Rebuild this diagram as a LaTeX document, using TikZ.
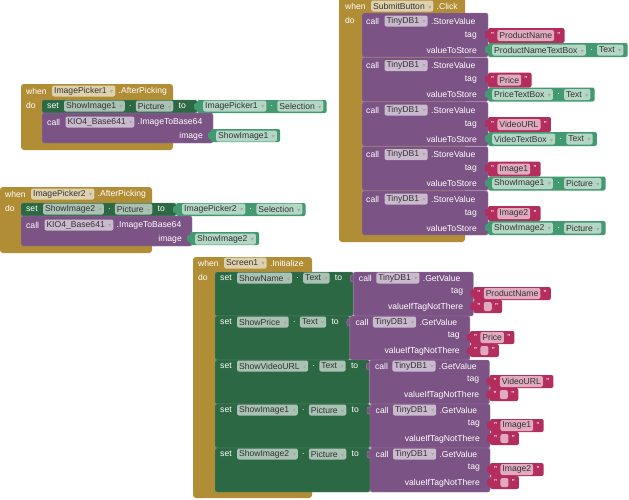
\documentclass[tikz,border=0pt]{standalone}
\usepackage{fontspec}
\setmainfont{Liberation Sans}
\newfontfamily\symfont{DejaVu Sans}
\usetikzlibrary{positioning,backgrounds}
\definecolor{evgold}{HTML}{B18E35}
\definecolor{setgreen}{HTML}{2B6843}
\definecolor{getgreen}{HTML}{439970}
\definecolor{callpurple}{HTML}{7C5385}
\definecolor{strred}{HTML}{B32D5E}
\newcommand{\blkfont}{\fontsize{8.6}{10}\selectfont}
\newcommand{\dda}{\hspace{3.5pt}{\symfont\fontsize{6}{6}\selectfont\color{black!35}▾}\hspace{1.5pt}}

\begin{document}
\begin{tikzpicture}[x=1pt, y=-1pt, node distance=4pt,
  lbl/.style={text=white, font=\blkfont, inner sep=0pt, anchor=west},
  dd/.style={fill=white, fill opacity=.6, text opacity=1, text=black!80, rounded corners=2pt,
    inner xsep=2pt, inner ysep=0pt, minimum height=11pt, font=\blkfont, anchor=west},
  evblk/.style={fill=evgold, rounded corners=3pt},
  setblk/.style={fill=setgreen, draw=setgreen!75!white, line width=.4pt, rounded corners=2pt},
  getblk/.style={fill=getgreen, rounded corners=2pt},
  callblk/.style={fill=callpurple, draw=callpurple!75!white, line width=.4pt, rounded corners=2pt},
  strblk/.style={fill=strred, rounded corners=2pt}
]
\useasboundingbox (0,0) rectangle (629,499);
\begin{scope}[on background layer]
  \fill[white] (0,0) rectangle (629,499);
\end{scope}

% ImagePicker events
\foreach \pk/\ox/\oy in {1/21/84, 2/0/187}{
\begin{scope}[shift={(\ox,\oy)}]
  \node[lbl] (when\pk) at (5,7) {when};
  \node[dd, right=5pt of when\pk] (picker\pk) {ImagePicker\pk\dda};
  \node[lbl, right=3pt of picker\pk] {.AfterPicking};
  \node[lbl] (do\pk) at (5,21) {do};
  \node[lbl] (set\pk) at (26,22) {set};
  \node[dd, right=5pt of set\pk] (show\pk) {ShowImage\pk\dda};
  \node[lbl, right=of show\pk] (dot\pk) {.};
  \node[dd, right=of dot\pk] (pic\pk) {Picture\dda};
  \node[lbl, right=5pt of pic\pk] (to\pk) {to};
  \node[dd] (src\pk) at (182,22) {ImagePicker\pk\dda};
  \node[lbl, right=of src\pk] (srcdot\pk) {.};
  \node[dd, right=of srcdot\pk] (sel\pk) {Selection\dda};
  \node[lbl] (call\pk) at (26,38) {call};
  \node[dd, right=5pt of call\pk] (kio\pk) {KIO4\_Base641\dda};
  \node[lbl, right=3pt of kio\pk] {.ImageToBase64};
  \node[lbl, anchor=east] (img\pk) at (182,52) {image};
  \node[dd] (arg\pk) at (195,52) {ShowImage\pk\dda};
  \begin{scope}[on background layer]
    \fill[evblk] (0,0) rectangle (152,66);
    \fill[setblk] (21,16) rectangle (176,29);
    \fill[getblk] (173,19) rectangle (179,26);
    \fill[getblk] (176,16) rectangle ([xshift=3pt,yshift=-7pt]sel\pk.east);
    \fill[callblk] (21,29) rectangle (192,59);
    \fill[getblk] (187,48) rectangle (193,55);
    \fill[getblk] (190,45) rectangle ([xshift=3pt,yshift=-6pt]arg\pk.east);
  \end{scope}
\end{scope}
}

% SubmitButton.Click
\begin{scope}[on background layer]
  \fill[evblk] (339,-4) rectangle (465,242);
\end{scope}
\node[lbl] (whenS) at (345,6) {when};
\node[dd, right=5pt of whenS] (submit) {SubmitButton\dda};
\node[lbl, right=3pt of submit] {.Click};
\node[lbl] (doS) at (345,20) {do};
\foreach \tg/\cm/\pr [count=\row from 0] in {ProductName/ProductNameTextBox/Text,
    Price/PriceTextBox/Text, VideoURL/VideoTextBox/Text,
    Image1/ShowImage1/Picture, Image2/ShowImage2/Picture}{
  \pgfmathsetmacro\ty{13+44.5*\row}
  \node[lbl] (sc\row) at (366,\ty+8) {call};
  \node[dd, right=5pt of sc\row] (sdb\row) {TinyDB1\dda};
  \node[lbl, right=3pt of sdb\row] {.StoreValue};
  \node[lbl, anchor=east] at (477,\ty+22.5) {tag};
  \node[lbl, anchor=east] at (477,\ty+37) {valueToStore};
  \node[lbl] (sq\row) at (491,\ty+22.5) {"};
  \node[dd, right=3pt of sq\row] (stag\row) {\tg};
  \node[lbl, right=3pt of stag\row] (sqe\row) {"};
  \node[dd] (scm\row) at (492,\ty+37) {\cm\dda};
  \node[lbl, right=of scm\row] (vdot\row) {.};
  \node[dd, right=of vdot\row] (spr\row) {\pr\dda};
  \begin{scope}[on background layer]
    \fill[callblk] (362,\ty) rectangle (488,\ty+44);
    \fill[strblk] (485,\ty+18) rectangle (490,\ty+25);
    \fill[strblk] (488,\ty+15) rectangle ([xshift=4pt,yshift=-7.5pt]sqe\row.east);
    \fill[getblk] (485,\ty+33) rectangle (490,\ty+40);
    \fill[getblk] (488,\ty+30) rectangle ([xshift=4pt,yshift=-7pt]spr\row.east);
  \end{scope}
}

% Screen1.Initialize
\begin{scope}[on background layer]
  \fill[evblk] (193,257) rectangle (312,498);
\end{scope}
\node[lbl] (whenI) at (198,263) {when};
\node[dd, right=5pt of whenI] (scr) {Screen1\dda};
\node[lbl, right=3pt of scr] {.Initialize};
\node[lbl] (doI) at (198,277) {do};
\foreach \cm/\pr/\tg [count=\row from 0] in {ShowName/Text/ProductName,
    ShowPrice/Text/Price, ShowVideoURL/Text/VideoURL,
    ShowImage1/Picture/Image1, ShowImage2/Picture/Image2}{
  \pgfmathsetmacro\ty{272+44*\row}
  \node[lbl] (iset\row) at (220,\ty+6) {set};
  \node[dd, right=5pt of iset\row] (icm\row) {\cm\dda};
  \node[lbl, right=of icm\row] (idot\row) {.};
  \node[dd, right=of idot\row] (ipr\row) {\pr\dda};
  \node[lbl, right=5pt of ipr\row] (ito\row) {to};
  \node[lbl, right=16.5pt of ito\row] (icall\row) {call};
  \node[dd, right=4pt of icall\row] (idb\row) {TinyDB1\dda};
  \node[lbl, right=3pt of idb\row] {.GetValue};
  \node[lbl, anchor=east] at ([xshift=121pt,yshift=-14pt]ito\row.east) {tag};
  \node[lbl, anchor=east] at ([xshift=121pt,yshift=-29pt]ito\row.east) {valueIfTagNotThere};
  \node[lbl] (iq\row) at ([xshift=135pt,yshift=-15.5pt]ito\row.east) {"};
  \node[dd, right=3pt of iq\row] (itag\row) {\tg};
  \node[lbl, right=3pt of itag\row] (iqe\row) {"};
  \node[lbl] (ie\row) at ([xshift=135pt,yshift=-28.5pt]ito\row.east) {"};
  \node[dd, minimum width=8pt, minimum height=9pt, right=3pt of ie\row] (iempty\row) {};
  \node[lbl, right=3pt of iempty\row] (iee\row) {"};
  \begin{scope}[on background layer]
    \fill[setblk] (215,\ty) rectangle ([xshift=11pt,yshift=-38pt]ito\row.east);
    \fill[callblk] ([xshift=8pt,yshift=3pt]ito\row.east) rectangle ([xshift=12pt,yshift=-4pt]ito\row.east);
    \fill[callblk] ([xshift=11pt,yshift=6pt]ito\row.east) rectangle ([xshift=131pt,yshift=-38pt]ito\row.east);
    \fill[strblk] ([xshift=128pt,yshift=-12pt]ito\row.east) rectangle ([xshift=133pt,yshift=-19pt]ito\row.east);
    \fill[strblk] ([xshift=131pt,yshift=-9pt]ito\row.east) rectangle ([xshift=4pt,yshift=-6.5pt]iqe\row.east);
    \fill[strblk] ([xshift=128pt,yshift=-25pt]ito\row.east) rectangle ([xshift=133pt,yshift=-32pt]ito\row.east);
    \fill[strblk] ([xshift=131pt,yshift=-22pt]ito\row.east) rectangle ([xshift=4pt,yshift=-6.5pt]iee\row.east);
  \end{scope}
}
\end{tikzpicture}
\end{document}
